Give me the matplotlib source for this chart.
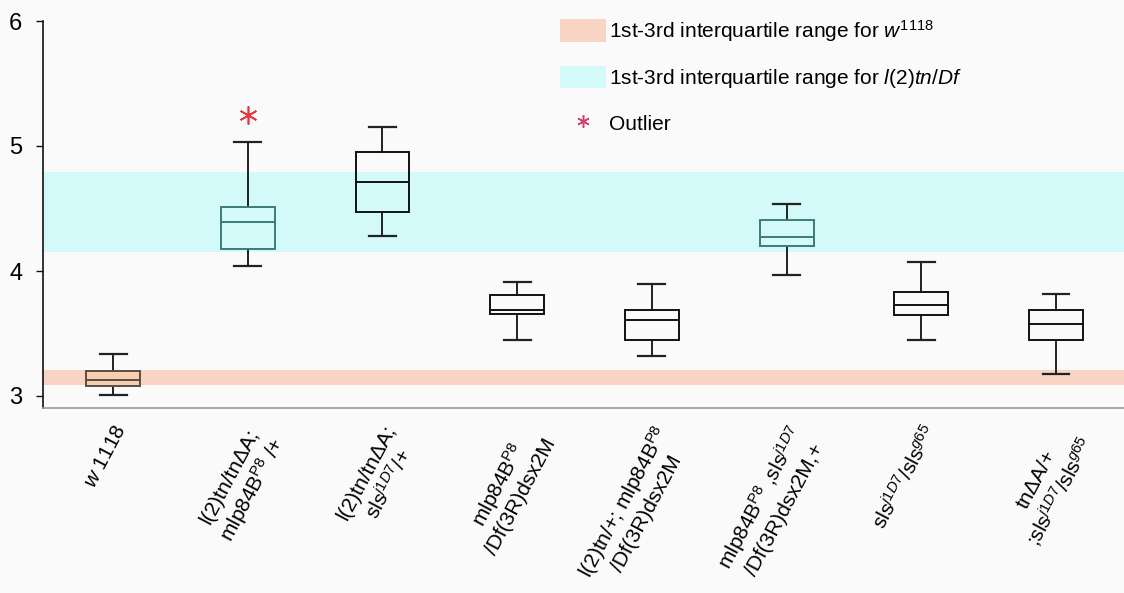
import matplotlib
matplotlib.use("Agg")
import matplotlib.pyplot as plt
from matplotlib.patches import Patch
from matplotlib.lines import Line2D

plt.rcParams['font.family'] = ['Liberation Sans', 'DejaVu Sans']
plt.rcParams['mathtext.fontset'] = 'custom'
plt.rcParams['mathtext.rm'] = 'Liberation Sans'
plt.rcParams['mathtext.it'] = 'Liberation Sans:italic'
plt.rcParams['mathtext.bf'] = 'Liberation Sans:bold'

# ---- data ----
labels = [
    r"$\mathit{w}$ $\mathit{1118}$",
    "l(2)tn/tnΔA;\nmlp84B$^{\\mathrm{P8}}$ /+",
    "l(2)tn/tnΔA;\nsls$^{\\mathit{j1D7}}$/+",
    "mlp84B$^{\\mathrm{P8}}$\n/Df(3R)dsx2M",
    "l(2)tn/+; mlp84B$^{\\mathrm{P8}}$\n/Df(3R)dsx2M",
    "mlp84B$^{\\mathrm{P8}}$ ,sls$^{\\mathit{j1D7}}$\n/Df(3R)dsx2M,+",
    "sls$^{\\mathit{j1D7}}$/sls$^{\\mathit{g65}}$",
    "tnΔA/+\n;sls$^{\\mathit{j1D7}}$/sls$^{\\mathit{g65}}$",
]
whislo = [3.01, 4.04, 4.28, 3.445, 3.32, 3.97, 3.445, 3.175]
q1     = [3.08, 4.18, 4.47, 3.66, 3.45, 4.20, 3.645, 3.45]
med    = [3.13, 4.39, 4.715, 3.69, 3.61, 4.27, 3.73, 3.575]
q3     = [3.20, 4.515, 4.95, 3.81, 3.69, 4.41, 3.83, 3.69]
whishi = [3.335, 5.035, 5.155, 3.915, 3.895, 4.54, 4.07, 3.82]
outliers = [[], [5.25], [], [], [], [], [], []]

band_w1118 = (3.085, 3.205)
band_tn_df = (4.15, 4.79)

yticks = [3, 4, 5, 6]

edge_colors = ['#5a4d45', '#3d7b78', '#111111', '#111111', '#111111',
               '#3d7b78', '#111111', '#111111']
face_colors = ['#f7cfae', 'none', 'none', 'none', 'none', 'none', 'none', 'none']

orange = '#f8d4c4'
cyan = '#d3faf8'
bg = '#fafafa'

# ---- figure ----
W, H = 1124, 593
fig = plt.figure(figsize=(W / 100, H / 100), dpi=100, facecolor=bg)
ax = fig.add_axes([43 / W, 185 / H, 1 - 43 / W, (408 - 21) / H])
ax.set_facecolor(bg)

ax.axhspan(band_w1118[0], band_w1118[1], color=orange, lw=0, zorder=0)
ax.axhspan(band_tn_df[0], band_tn_df[1], color=cyan, lw=0, zorder=0)

stats = []
for i in range(len(labels)):
    stats.append(dict(med=med[i], q1=q1[i], q3=q3[i], whislo=whislo[i],
                      whishi=whishi[i], fliers=outliers[i]))

positions = list(range(1, len(labels) + 1))
bp = ax.bxp(stats, positions=positions, widths=0.4, patch_artist=True,
            showfliers=True,
            flierprops=dict(marker=(6, 2, 0), markersize=13,
                            markeredgecolor='#e8343c', markerfacecolor='#e8343c',
                            markeredgewidth=1.2, linestyle='none'))
for i, box in enumerate(bp['boxes']):
    box.set_facecolor(face_colors[i])
    box.set_edgecolor(edge_colors[i])
    box.set_linewidth(1.4)
    box.set_zorder(3)
for i, m in enumerate(bp['medians']):
    m.set_color(edge_colors[i])
    m.set_linewidth(1.4)
    m.set_zorder(4)
for w in bp['whiskers']:
    w.set_color('#222222')
    w.set_linewidth(1.4)
for c in bp['caps']:
    c.set_color('#222222')
    c.set_linewidth(1.6)

ax.set_xlim(0.48, 8.505)
ax.set_ylim(2.904, 6.0)
ax.set_yticks(yticks)
ax.set_yticklabels([str(v) for v in yticks], fontsize=17)
ax.tick_params(axis='y', length=5, width=1, pad=10, color='#111111')
ax.tick_params(axis='x', length=0, pad=10)
ax.set_xticks(positions)
ax.set_xticklabels(labels, rotation=62, ha='right', va='top',
                   rotation_mode='anchor', fontsize=15, multialignment='center')

for s in ['top', 'right']:
    ax.spines[s].set_visible(False)
ax.spines['left'].set_color('#111111')
ax.spines['left'].set_linewidth(1.2)
ax.spines['bottom'].set_color('#9a9a9a')
ax.spines['bottom'].set_linewidth(1.2)

handles = [
    Patch(facecolor=orange, edgecolor='none'),
    Patch(facecolor=cyan, edgecolor='none'),
    Line2D([], [], marker=(6, 2, 0), linestyle='none', markersize=9,
           markeredgecolor='#d2426e', markerfacecolor='#d2426e', markeredgewidth=1.1),
]
leg_labels = [
    r"1st-3rd interquartile range for $\mathit{w}^{\mathit{1118}}$",
    r"1st-3rd interquartile range for $\mathit{l(2)tn/Df}$",
    "Outlier",
]
leg = ax.legend(handles, leg_labels, loc='upper left',
                bbox_to_anchor=(560 / W, 1 - 18 / H), bbox_transform=fig.transFigure,
                frameon=False, fontsize=15, handlelength=2.2, handleheight=1.3,
                labelspacing=1.05, handletextpad=0.15, borderpad=0, borderaxespad=0)

fig.savefig("out.png", dpi=100, facecolor=bg)
